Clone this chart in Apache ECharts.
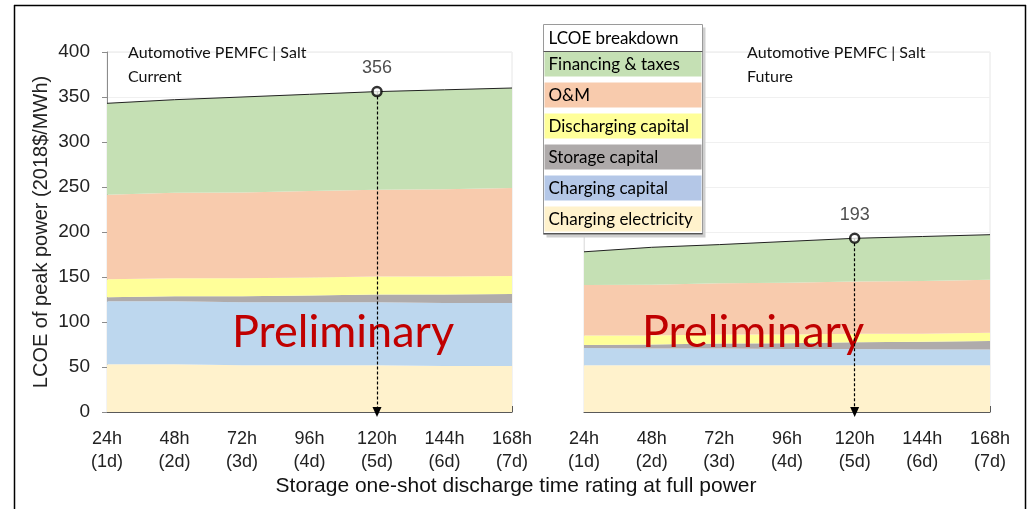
<!DOCTYPE html>
<html>
<head>
<meta charset="utf-8">
<script src="https://cdn.jsdelivr.net/npm/echarts@6/dist/echarts.min.js"></script>
<style>
html,body{margin:0;padding:0;background:#fff;}
#chart{width:1032px;height:509px;}
</style>
</head>
<body>
<div id="chart"></div>
<script>
// ---- data ----
const categories = ['24h\n(1d)', '48h\n(2d)', '72h\n(3d)', '96h\n(4d)', '120h\n(5d)', '144h\n(6d)', '168h\n(7d)'];
const seriesNames = ['Charging electricity', 'Charging capital', 'Storage capital', 'Discharging capital', 'O&M', 'Financing & taxes'];

// Current scenario (left panel)
const curChargingElectricity = [53, 53, 52, 52, 52, 51, 51];
const curChargingCapital     = [70, 70, 70, 70, 70, 70, 70];
const curStorageCapital      = [4.5, 5.5, 6.5, 7.5, 8.5, 9.5, 10];
const curDischargingCapital  = [20, 20, 20, 20, 20, 20, 20];
const curOM                  = [94, 95, 95.5, 96, 96.5, 97, 98];
const curFinancing           = [101.5, 103.5, 106, 107.5, 109, 110.5, 111];

// Future scenario (right panel)
const futChargingElectricity = [52, 52, 52, 52, 52, 52, 52];
const futChargingCapital     = [19, 18.5, 18.5, 18, 18, 17.5, 17.5];
const futStorageCapital      = [3.5, 4.5, 5.5, 6.5, 7.5, 8.5, 9.5];
const futDischargingCapital  = [10.5, 10, 10, 9.5, 9.5, 9, 9];
const futOM                  = [56, 56.5, 57, 57.5, 58, 58.5, 59];
const futFinancing           = [37, 41.5, 43, 46, 48, 49.5, 50];

const yTicks = [0, 50, 100, 150, 200, 250, 300, 350, 400];
const highlightIndex = 4; // 120h

const panelTitles = ['Automotive PEMFC | Salt\nCurrent', 'Automotive PEMFC | Salt\nFuture'];
const watermark = 'Preliminary';
const legendTitle = 'LCOE breakdown';
const yAxisTitle = 'LCOE of peak power (2018$/MWh)';
const xAxisTitle = 'Storage one-shot discharge time rating at full power';

// ---- styles ----
const areaColors = ['#FFF2CC', '#BDD7EE', '#AFABAB', '#FFFF99', '#F8CBAD', '#C5E0B4'];
const legendColors = ['#FFF2CC', '#B4C7E7', '#AEAAAA', '#FFFF99', '#F8CBAD', '#C5E0B4'];
const uiFont = 'Lato';
const axisFont = 'Liberation Sans';

const curSets = [curChargingElectricity, curChargingCapital, curStorageCapital, curDischargingCapital, curOM, curFinancing];
const futSets = [futChargingElectricity, futChargingCapital, futStorageCapital, futDischargingCapital, futOM, futFinancing];

function totalAt(sets, i) { return Math.round(sets.reduce((s, a) => s + a[i], 0)); }

const chart = echarts.init(document.getElementById('chart'), null, {renderer: 'canvas'});

function stackSeries(sets, axisIdx, stackName) {
  return sets.map((d, k) => ({
    name: seriesNames[k],
    type: 'line',
    xAxisIndex: axisIdx, yAxisIndex: axisIdx,
    stack: stackName,
    data: d,
    showSymbol: false,
    symbol: 'none',
    silent: true,
    lineStyle: k === sets.length - 1 ? {color: '#222', width: 1} : {width: 0},
    areaStyle: {color: areaColors[k], opacity: 1},
    z: 2
  }));
}

function markerSeries(sets, axisIdx) {
  const t = totalAt(sets, highlightIndex);
  return {
    type: 'scatter',
    xAxisIndex: axisIdx, yAxisIndex: axisIdx,
    data: [[highlightIndex, t]],
    symbol: 'circle',
    symbolSize: 9,
    itemStyle: {color: '#fff', borderColor: '#000', borderWidth: 2.5},
    label: {show: true, position: 'top', distance: 9, color: '#222', fontFamily: axisFont, fontSize: 18, formatter: p => p.value[1]},
    markLine: {
      silent: true,
      symbol: ['none', 'triangle'],
      symbolSize: [9, 10],
      label: {show: false},
      lineStyle: {color: '#000', type: [3, 2], width: 1.2},
      data: [[{coord: [highlightIndex, t]}, {coord: [highlightIndex, 0]}]]
    },
    z: 5
  };
}

const grids = [
  {left: 107, right: 520, top: 52, bottom: 97},
  {left: 584, right: 42, top: 52, bottom: 97}
];

const xAxes = [0, 1].map(i => ({
  type: 'category', gridIndex: i, data: categories, boundaryGap: false,
  axisLine: {lineStyle: {color: '#595959', width: 1.2}},
  axisTick: {show: true, inside: true, length: 6, lineStyle: {color: '#595959'}},
  axisLabel: {color: '#222', fontFamily: axisFont, fontSize: 18, lineHeight: 23, margin: 16, interval: 0},
  splitLine: {show: false}
}));

const yAxes = [0, 1].map(i => ({
  type: 'value', gridIndex: i, min: 0, max: 400, interval: 50,
  splitLine: {show: true, lineStyle: {color: '#f0f0f0', width: 1}},
  axisLine: {show: true, lineStyle: {color: i === 0 ? '#8c8c8c' : '#e3e3e3', width: 1}},
  axisTick: {show: i === 0, length: 5, lineStyle: {color: '#8c8c8c'}},
  axisLabel: {show: i === 0, color: '#222', fontFamily: axisFont, fontSize: 19, margin: 17,
              formatter: v => yTicks.includes(v) ? String(v) : ''},
  name: i === 0 ? yAxisTitle : '',
  nameLocation: 'middle', nameGap: 56, nameRotate: 90,
  nameTextStyle: {color: '#222', fontFamily: axisFont, fontSize: 20}
}));

// legend box (graphic), rows built from the series names
const legendX = 541, legendY = 24, legendW = 159, headerH = 27, rowH = 25, gap = 6;
const boxH = headerH + 6 * (rowH + gap) - gap + 3;
const LZ = 100;
const legendChildren = [
  {type: 'rect', z: LZ, shape: {x: 3, y: 3, width: legendW, height: boxH}, style: {fill: '#cfcfcf'}},
  {type: 'rect', z: LZ, shape: {x: 0, y: 0, width: legendW, height: boxH}, style: {fill: '#fff', stroke: '#9a9a9a', lineWidth: 1}},
  {type: 'text', z: LZ + 2, x: 5, y: headerH / 2 + 1, style: {text: legendTitle, fill: '#000', font: '17px ' + uiFont, textVerticalAlign: 'middle'}},
  {type: 'line', z: LZ + 2, shape: {x1: 0, y1: headerH, x2: legendW, y2: headerH}, style: {stroke: '#555', lineWidth: 1}}
];
for (let r = 0; r < 6; r++) {
  const k = 5 - r;
  const y = headerH + r * (rowH + gap);
  legendChildren.push({type: 'rect', z: LZ + 1, shape: {x: 1, y: y, width: legendW - 2, height: rowH}, style: {fill: legendColors[k]}});
  legendChildren.push({type: 'text', z: LZ + 2, x: 5, y: y + rowH / 2 + 1, style: {text: seriesNames[k], fill: '#000', font: '17px ' + uiFont, textVerticalAlign: 'middle'}});
}
legendChildren.push({type: 'line', z: LZ + 2, shape: {x1: 0, y1: boxH - 1, x2: legendW, y2: boxH - 1}, style: {stroke: '#555', lineWidth: 1}});

const option = {
  animation: false,
  backgroundColor: '#fff',
  grid: grids.map(g => Object.assign({show: true, borderColor: '#e6e6e6', borderWidth: 1, backgroundColor: 'transparent'}, g)),
  xAxis: xAxes,
  yAxis: yAxes,
  series: [].concat(
    stackSeries(curSets, 0, 'cur'), [markerSeries(curSets, 0)],
    stackSeries(futSets, 1, 'fut'), [markerSeries(futSets, 1)]
  ),
  graphic: [
    {type: 'line', z: 50, shape: {x1: 14.5, y1: 5, x2: 14.5, y2: 509}, style: {stroke: '#000', lineWidth: 1.5}},
    {type: 'line', z: 50, shape: {x1: 1025.5, y1: 5, x2: 1025.5, y2: 509}, style: {stroke: '#000', lineWidth: 1.5}},
    {type: 'line', z: 50, shape: {x1: 14, y1: 5.5, x2: 1026, y2: 5.5}, style: {stroke: '#000', lineWidth: 1.5}},
    {type: 'text', left: 128, top: 41, z: 10, style: {text: panelTitles[0], fill: '#111', font: '16px ' + uiFont, lineHeight: 24}},
    {type: 'text', left: 747, top: 41, z: 10, style: {text: panelTitles[1], fill: '#111', font: '16px ' + uiFont, lineHeight: 24}},
    {type: 'text', left: 232, top: 310, z: 3, style: {text: watermark, fill: '#C00000', font: '45px ' + uiFont}},
    {type: 'text', left: 642, top: 310, z: 3, style: {text: watermark, fill: '#C00000', font: '45px ' + uiFont}},
    {type: 'text', left: 'center', top: 476, style: {text: xAxisTitle, fill: '#111', font: '21px ' + axisFont}},
    {type: 'group', left: legendX, top: legendY, z: LZ, children: legendChildren}
  ]
};
chart.setOption(option);
</script>
</body>
</html>
